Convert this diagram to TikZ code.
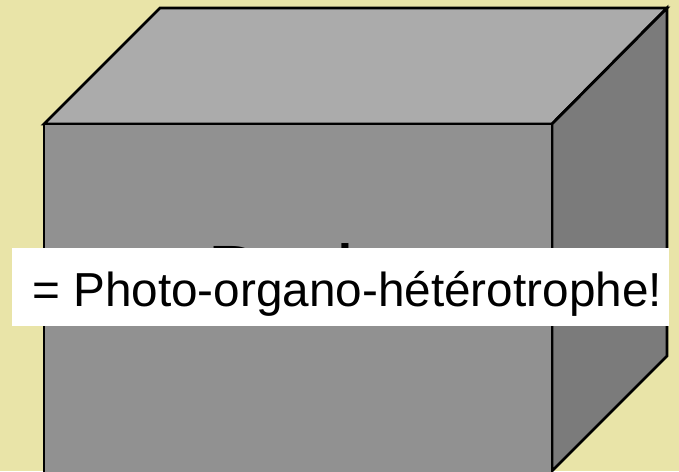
\documentclass[tikz,border=0pt]{standalone}
\usepackage{fontspec}
\setmainfont{Liberation Sans}
\definecolor{paper}{RGB}{233,228,168}
\definecolor{faceFront}{RGB}{145,145,145}
\definecolor{faceTop}{RGB}{171,171,171}
\definecolor{faceSide}{RGB}{123,123,123}
\tikzset{
  face/.style={draw=black, line width=2.8pt, line join=miter},
  label box/.style={fill=white, draw=none},
}
\begin{document}
\begin{tikzpicture}[x=1pt, y=-1pt]
  \useasboundingbox (0,0) rectangle (679,471);
  \fill[paper] (0,0) rectangle (679,471);
  \begin{scope}
    \clip (0,0) rectangle (679,471);
    % box faces
    \path[face, fill=faceTop] (44,124) -- (160,8) -- (667,8) -- (552,124) -- cycle;
    \path[face, fill=faceSide] (552,124) -- (667,8) -- (667,356) -- (552,471) -- cycle;
    \path[face, fill=faceFront] (44,124) -- (552,124) -- (552,480) -- (44,480) -- cycle;
    % large caption on the front face, mostly covered
    \node[anchor=base west, inner sep=0pt, font=\fontsize{80}{96}\selectfont] (cubetext) at (207,301) {Dark};
  \end{scope}
  % white label band
  \path[label box] (12,248) rectangle (669,326);
  \node[anchor=base west, inner sep=0pt, font=\fontsize{47.7}{57}\selectfont] (label) at (32,306) {= Photo-organo-hétérotrophe!};
\end{tikzpicture}
\end{document}
